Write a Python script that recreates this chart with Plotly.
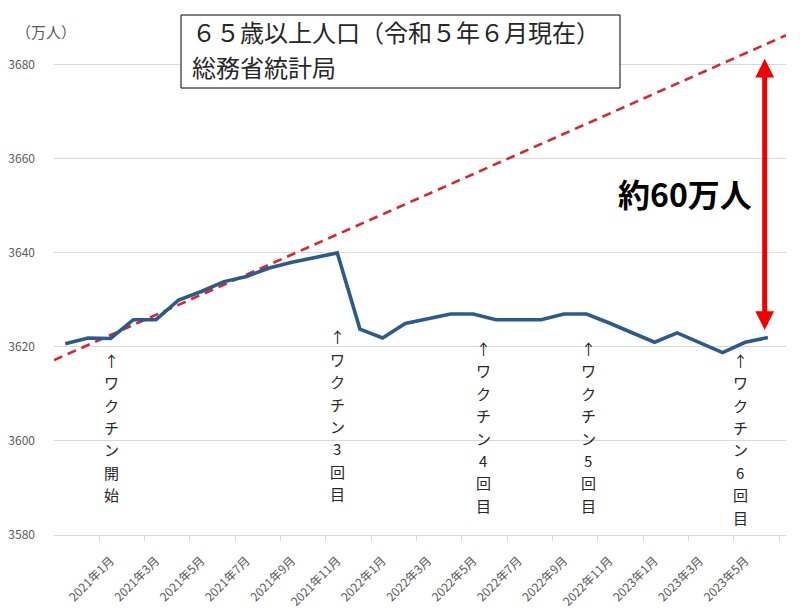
import plotly.graph_objects as go

# ---------------- data ----------------
months = [
    "2020年11月", "2020年12月", "2021年1月", "2021年2月", "2021年3月", "2021年4月",
    "2021年5月", "2021年6月", "2021年7月", "2021年8月", "2021年9月", "2021年10月",
    "2021年11月", "2021年12月", "2022年1月", "2022年2月", "2022年3月", "2022年4月",
    "2022年5月", "2022年6月", "2022年7月", "2022年8月", "2022年9月", "2022年10月",
    "2022年11月", "2022年12月", "2023年1月", "2023年2月", "2023年3月", "2023年4月",
    "2023年5月", "2023年6月",
]
population = [
    3620.7, 3621.9, 3621.8, 3625.8, 3625.8, 3630.0, 3631.8, 3633.9, 3635.0, 3636.8,
    3638.0, 3639.0, 3640.0, 3623.8, 3621.9, 3625.0, 3626.0, 3627.0, 3627.0, 3625.8,
    3625.8, 3625.8, 3627.0, 3627.0, 3625.1, 3623.0, 3621.0, 3623.0, 3621.0, 3618.8,
    3621.0, 3622.0,
]
# red dashed trend line (start / end, in month-index and 万人)
trend_x = [-0.5, 31.8]
trend_y = [3617.2, 3686.3]

# vaccination markers (month-index position, top value)
vax_texts = ["ワクチン開始", "ワクチン3回目", "ワクチン4回目", "ワクチン5回目", "ワクチン6回目"]
vax_x = [2.05, 12.0, 18.45, 23.07, 29.77]
vax_top = [3619.6, 3624.6, 3622.1, 3622.1, 3619.6]

# gap arrow
gap_x = 30.86
gap_top = 3681.3
gap_bottom = 3623.3
gap_label = "約60万人"

title_lines = ["６５歳以上人口（令和５年６月現在）", "総務省統計局"]
unit_label = "（万人）"

y_ticks = [3580, 3600, 3620, 3640, 3660, 3680]

# ---------------- layout helpers ----------------
W, H = 800, 612
ML, MR, MT, MB = 54, 14, 32, 77
PW, PH = W - ML - MR, H - MT - MB


def px(x):
    return (x - ML) / PW


def py(y):
    return (H - MB - y) / PH


FONT = "Noto Sans CJK JP"
GRAY = "#595959"
GRID = "#D9D9D9"

idx = list(range(len(months)))

fig = go.Figure()
fig.add_trace(go.Scatter(
    x=trend_x, y=trend_y, mode="lines",
    line=dict(color="#D7262E", width=2.6, dash="9px,6px"),
    hoverinfo="skip", showlegend=False,
))
fig.add_trace(go.Scatter(
    x=idx, y=population, mode="lines",
    line=dict(color="#2B5B8C", width=3.6),
    showlegend=False,
))

# tick labels: every 2nd month (first one is clipped off in the original)
tickvals = idx[::2]
ticktext = months[::2]
ticktext[0] = ""

fig.update_xaxes(
    range=[-0.5, 31.8],
    tickmode="array", tickvals=tickvals, ticktext=ticktext,
    tickangle=-45, ticks="", showgrid=False,
    showline=True, linecolor=GRID, linewidth=1,
    tickfont=dict(family=FONT, size=12, color=GRAY),
    ticklabelstandoff=13,
    minor=dict(tickmode="array", tickvals=[i + 0.5 for i in range(1, 32, 2)],
               ticks="outside", ticklen=5, tickcolor=GRID, tickwidth=1, showgrid=False),
    zeroline=False, automargin=False,
)
fig.update_yaxes(
    range=[3580, 3687],
    tickmode="array", tickvals=y_ticks,
    showgrid=True, gridcolor=GRID, gridwidth=1,
    tickfont=dict(family=FONT, size=12, color=GRAY),
    ticks="", ticklabelstandoff=18,
    zeroline=False, showline=False, automargin=False,
)

annotations = []
# vaccination vertical labels, one character per row
CH_STEP = 22.4
for t, x, y in zip(vax_texts, vax_x, vax_top):
    for k, ch in enumerate(["↑"] + list(t)):
        annotations.append(dict(
            x=x, y=y, xref="x", yref="y", xanchor="center", yanchor="top",
            yshift=-k * CH_STEP, text=ch, showarrow=False, borderpad=0,
            font=dict(family=FONT, size=15, color="#262626"),
        ))

# red double arrow
annotations.append(dict(
    x=gap_x, y=gap_top, ax=gap_x, ay=gap_bottom, xref="x", yref="y",
    axref="x", ayref="y", text="", showarrow=True, arrowside="end+start",
    arrowhead=2, startarrowhead=2, arrowsize=0.75, startarrowsize=0.75,
    arrowwidth=5, arrowcolor="#F00000", standoff=0, startstandoff=0,
))
annotations.append(dict(
    x=px(685), y=py(193), xref="paper", yref="paper", xanchor="center", yanchor="middle",
    text="<b>" + gap_label + "</b>", showarrow=False,
    font=dict(family=FONT, size=32, color="#000000"),
))
# title box text (two separate lines)
for line, yc in zip(title_lines, [31.5, 66.5]):
    annotations.append(dict(
        x=px(191), y=py(yc), xref="paper", yref="paper", xanchor="left", yanchor="middle",
        text=line, showarrow=False, align="left", borderpad=0,
        font=dict(family=FONT, size=24, color="#262626"),
    ))
# unit label
annotations.append(dict(
    x=px(46), y=py(31), xref="paper", yref="paper", xanchor="center", yanchor="middle",
    text=unit_label, showarrow=False,
    font=dict(family=FONT, size=15, color=GRAY),
))

shapes = [dict(
    type="rect", xref="paper", yref="paper",
    x0=px(181), x1=px(620), y0=py(88), y1=py(15),
    line=dict(color="#000000", width=1), fillcolor="white", layer="above",
)]

fig.update_layout(
    width=W, height=H,
    margin=dict(l=ML, r=MR, t=MT, b=MB),
    paper_bgcolor="white", plot_bgcolor="white",
    font=dict(family=FONT),
    annotations=annotations, shapes=shapes,
    showlegend=False,
)

fig.write_html("out.html")
